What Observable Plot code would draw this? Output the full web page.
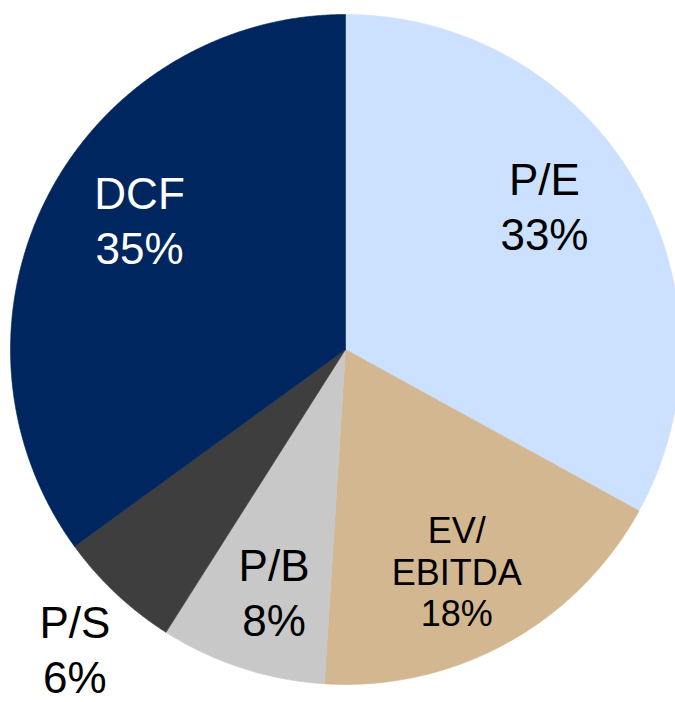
<!DOCTYPE html>
<html>
<head>
<meta charset="utf-8">
<script src="https://cdn.jsdelivr.net/npm/d3@7"></script>
<script src="https://cdn.jsdelivr.net/npm/@observablehq/plot@0.6"></script>
<style>
  html, body { margin: 0; padding: 0; background: #ffffff; overflow: hidden; }
  #chart svg { overflow: hidden; display: block; }
</style>
</head>
<body>
<div id="chart"></div>
<script>
// ---- data ----
const categories = ["P/E", "EV/EBITDA", "P/B", "P/S", "DCF"];
const shares = [33, 18, 8, 6, 35];
const sliceColors = ["#CCE0FF", "#D3B791", "#C8C8C8", "#3E3E3E", "#002660"];

// ---- derived geometry (unit circle, clockwise from 12 o'clock) ----
const total = d3.sum(shares);
let acc = 0;
const slices = categories.map((c, i) => {
  const a0 = acc / total * 2 * Math.PI;
  acc += shares[i];
  const a1 = acc / total * 2 * Math.PI;
  return {category: c, share: shares[i], color: sliceColors[i], a0, a1, mid: (a0 + a1) / 2};
});

const wedgePoints = slices.flatMap(s => {
  const pts = [{category: s.category, x: 0, y: 0}];
  const n = Math.max(2, Math.ceil((s.a1 - s.a0) / (Math.PI / 720)));
  for (let k = 0; k <= n; k++) {
    const a = s.a0 + (s.a1 - s.a0) * k / n;
    pts.push({category: s.category, x: Math.sin(a), y: Math.cos(a)});
  }
  pts.push({category: s.category, x: 0, y: 0});
  return pts;
});

// label anchors on an ellipse around the centre (inside) or outside the rim
const labels = slices.map(s => {
  const outside = s.share / total < 0.07;
  const rx = outside ? 1.18 : 0.69;
  const ry = outside ? 1.22 : 0.79;
  const lift = outside ? 0 : 0.03;
  const long = s.category.length > 5;
  const name = long ? s.category.replace("/", "/\n") : s.category;
  const darkSlice = d3.lab(s.color).l < 50;
  return {
    ...s,
    lx: rx * Math.sin(s.mid),
    ly: ry * Math.cos(s.mid) + lift,
    text: name + "\n" + s.share + "%",
    long,
    white: !outside && darkSlice
  };
});

const textOpts = {x: "lx", y: "ly", text: "text", lineAnchor: "middle", textAnchor: "middle"};

const chart = Plot.plot({
  width: 675,
  height: 702,
  margin: 0,
  style: {fontFamily: "'Liberation Sans', Arial, sans-serif", background: "#ffffff"},
  x: {domain: [-1, 1], range: [10, 680], axis: null},
  y: {domain: [-1, 1], range: [684, 14], axis: null},
  color: {domain: categories, range: sliceColors},
  marks: [
    Plot.line(wedgePoints, {x: "x", y: "y", z: "category", fill: "category", stroke: "category", strokeWidth: 0.6}),
    Plot.text(labels.filter(d => !d.long && !d.white), {...textOpts, fontSize: 44, lineHeight: 1.25, fill: "#000000"}),
    Plot.text(labels.filter(d => !d.long && d.white), {...textOpts, fontSize: 44, lineHeight: 1.25, fill: "#ffffff"}),
    Plot.text(labels.filter(d => d.long), {...textOpts, fontSize: 36, lineHeight: 1.14, fill: "#000000"})
  ]
});
document.getElementById("chart").appendChild(chart);
</script>
</body>
</html>
